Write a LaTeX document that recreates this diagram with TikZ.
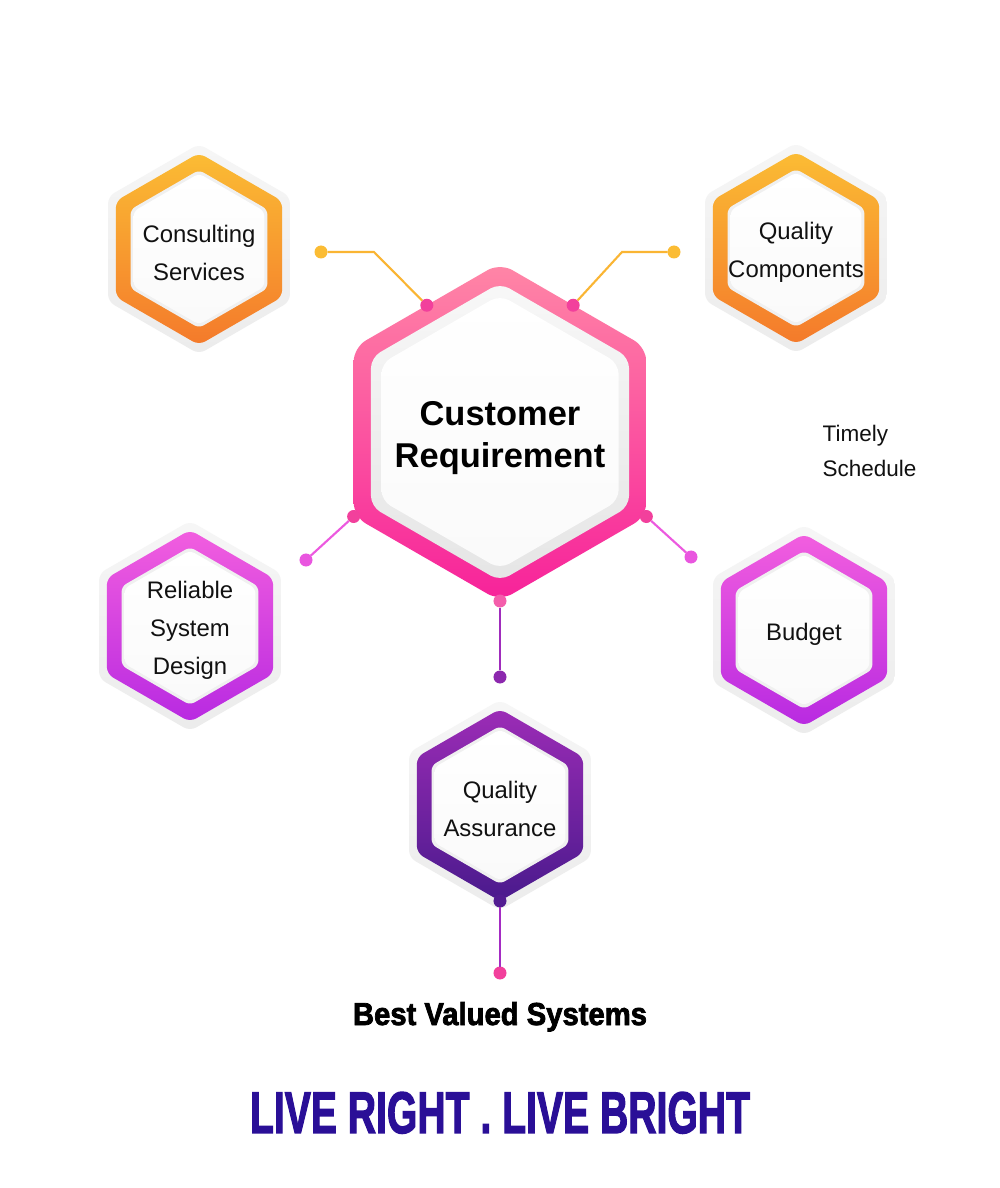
\documentclass[tikz,border=0pt]{standalone}
\usepackage{fontspec}
\setmainfont{Liberation Sans}
\newfontfamily\heavyfont[FakeBold=2.5]{Liberation Sans}
\usetikzlibrary{shapes.geometric,calc}
\definecolor{ink}{HTML}{111111}
\definecolor{orTop}{HTML}{FBBC34}
\definecolor{orBot}{HTML}{F47A2B}
\definecolor{mgTop}{HTML}{F25EDF}
\definecolor{mgBot}{HTML}{B82AE1}
\definecolor{puTop}{HTML}{9C2CB6}
\definecolor{puBot}{HTML}{4A1A8D}
\definecolor{pkTop}{HTML}{FF86A6}
\definecolor{pkBot}{HTML}{F7229A}
\definecolor{pkDot}{HTML}{F2409C}
\definecolor{indigo}{HTML}{2A0F97}
\tikzset{
  hexbase/.style={regular polygon,regular polygon sides=6,regular polygon rotate=30,inner sep=0pt,outer sep=0pt,minimum size=#1},
  halohex/.style={hexbase=#1,top color=gray!7,bottom color=gray!15},
  facehex/.style={hexbase=#1,top color=white,bottom color=gray!4},
  hextext/.style={align=center,font=\fontsize{6.8}{10.8}\selectfont,text=ink},
  dot/.style={circle,inner sep=0pt,outer sep=0pt,minimum size=0.13cm,fill=#1},
  link/.style={line width=0.6pt,draw=#1}
}

\begin{document}
\begin{tikzpicture}[x=1cm,y=1cm]
  \path[use as bounding box,fill=white] (0,0) rectangle (10,11.88);

  % centre
  \node[hexbase=3.38cm,rounded corners=4pt,top color=pkTop,bottom color=pkBot] (cr) at (5.00,7.56) {};
  \node[hexbase=2.98cm,rounded corners=3pt,top color=gray!6,bottom color=gray!20] (crring) at (cr) {};
  \node[facehex=2.74cm,rounded corners=3pt] (crface) at (cr) {};
  \node[align=center,font=\bfseries\fontsize{9.8}{12.2}\selectfont,text=black] (crtext) at (5.00,7.50) {Customer\\Requirement};

  % satellites
  \foreach \nm/\cx/\cy/\ctop/\cbot/\txt in {
      cs/1.99/9.39/orTop/orBot/{Consulting\\Services},
      qc/7.96/9.40/orTop/orBot/{Quality\\Components},
      rsd/1.90/5.62/mgTop/mgBot/{Reliable\\System\\Design},
      bud/8.04/5.58/mgTop/mgBot/{Budget},
      qa/5.00/3.83/puTop/puBot/{Quality\\Assurance}}{
    \node[halohex=2.10cm,rounded corners=2pt] (\nm-halo) at (\cx,\cy) {};
    \node[hexbase=1.92cm,rounded corners=2pt,top color=\ctop,bottom color=\cbot] (\nm) at (\cx,\cy) {};
    \node[hexbase=1.58cm,rounded corners=1.5pt,fill=gray!12] (\nm-ring) at (\cx,\cy) {};
    \node[facehex=1.51cm,rounded corners=1.5pt] (\nm-face) at (\cx,\cy) {};
    \node[hextext] (\nm-t) at ([yshift=-0.04cm]\nm) {\txt};
  }

  \node[anchor=west,inner sep=0pt,align=left,font=\fontsize{6.4}{9.7}\selectfont,text=ink] (ts) at (8.22,7.37) {Timely\\Schedule};

  % connectors
  \node[dot=orTop] (csdot) at (3.21,9.36) {};
  \node[dot=orTop] (qcdot) at (6.74,9.36) {};
  \node[dot=mgTop!85!mgBot] (rsddot) at (3.06,6.28) {};
  \node[dot=mgTop!85!mgBot] (buddot) at (6.91,6.31) {};
  \node[dot=puTop!80!puBot] (qatop) at (5.00,5.11) {};
  \node[dot=pkDot] (crdot1) at (cr.side 1) {};
  \node[dot=pkDot] (crdot6) at (cr.side 6) {};
  \node[dot=pkDot] (crdot3) at (cr.corner 3) {};
  \node[dot=pkDot] (crdot5) at (cr.corner 5) {};
  \node[dot=pkDot!85!white] (crdot4) at (cr.corner 4) {};
  \node[dot=puBot!90!puTop] (qadot) at (qa.corner 4) {};
  \node[dot=pkDot] (enddot) at (5.00,2.15) {};
  \coordinate (csbend) at (3.74,9.36);
  \coordinate (qcbend) at (6.22,9.36);

  \draw[link=orTop!90!orBot] (csdot) -- (csbend) -- (crdot1);
  \draw[link=orTop!90!orBot] (qcdot) -- (qcbend) -- (crdot6);
  \draw[link=mgTop!90!mgBot] (crdot3) -- (rsddot);
  \draw[link=mgTop!90!mgBot] (crdot5) -- (buddot);
  \draw[link=puTop!85!mgBot] (crdot4) -- (qatop);
  \draw[link=puTop!70!mgBot] (qadot) -- (enddot);

  % footer
  \node[anchor=base,inner sep=0pt,text=black] (bvs) at (5.00,1.63) {\resizebox{2.94cm}{0.23cm}{\heavyfont\bfseries Best Valued Systems}};
  \node[anchor=base,inner sep=0pt,text=indigo] (motto) at (5.00,0.55) {\resizebox{5.00cm}{0.41cm}{\heavyfont\bfseries LIVE RIGHT . LIVE BRIGHT}};
\end{tikzpicture}
\end{document}
